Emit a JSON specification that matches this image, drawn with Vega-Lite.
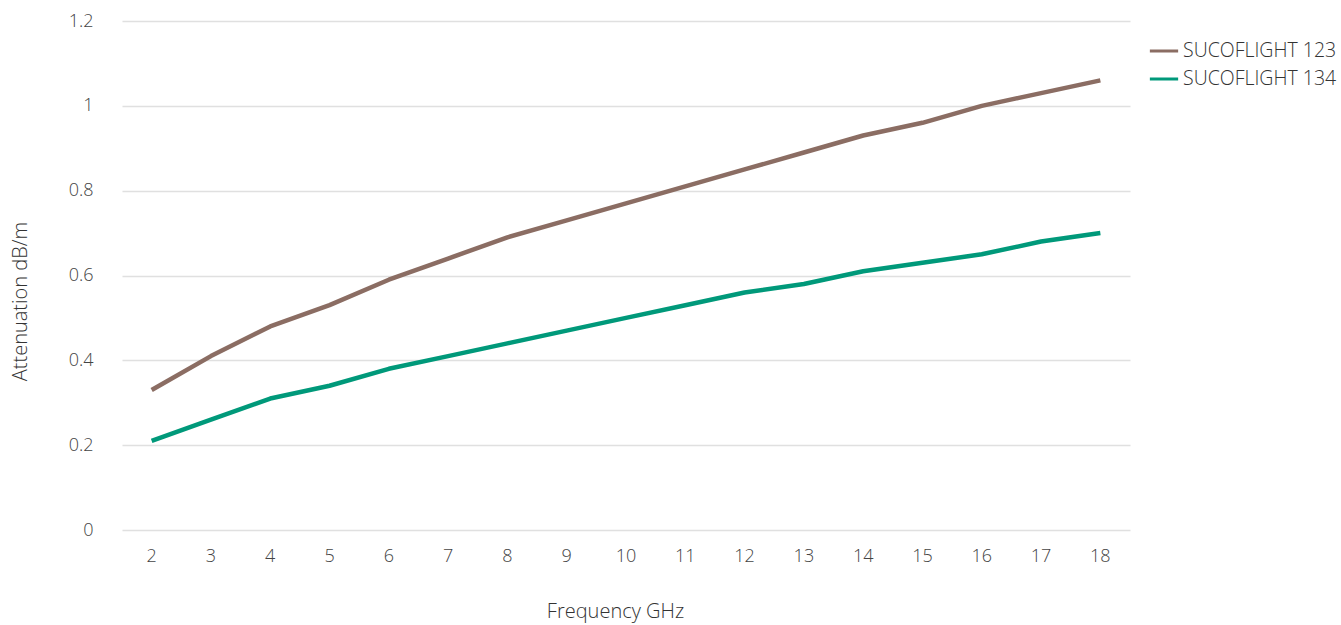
{
  "$schema": "https://vega.github.io/schema/vega-lite/v6.json",
  "width": 1008,
  "height": 509,
  "autosize": "none",
  "padding": {"left": 122, "top": 21, "right": 211, "bottom": 95},
  "background": "white",
  "config": {
    "view": {"stroke": null},
    "font": "Open Sans",
    "axis": {"labelFont": "Open Sans", "titleFont": "Open Sans", "labelFontWeight": 300, "titleFontWeight": 300, "labelColor": "#444", "titleColor": "#333", "labelFontSize": 18, "titleFontSize": 20}
  },
  "data": {
    "values": [
      {"f": 2, "series": "SUCOFLIGHT 123", "v": 0.33},
      {"f": 3, "series": "SUCOFLIGHT 123", "v": 0.41},
      {"f": 4, "series": "SUCOFLIGHT 123", "v": 0.48},
      {"f": 5, "series": "SUCOFLIGHT 123", "v": 0.53},
      {"f": 6, "series": "SUCOFLIGHT 123", "v": 0.59},
      {"f": 7, "series": "SUCOFLIGHT 123", "v": 0.64},
      {"f": 8, "series": "SUCOFLIGHT 123", "v": 0.69},
      {"f": 9, "series": "SUCOFLIGHT 123", "v": 0.73},
      {"f": 10, "series": "SUCOFLIGHT 123", "v": 0.77},
      {"f": 11, "series": "SUCOFLIGHT 123", "v": 0.81},
      {"f": 12, "series": "SUCOFLIGHT 123", "v": 0.85},
      {"f": 13, "series": "SUCOFLIGHT 123", "v": 0.89},
      {"f": 14, "series": "SUCOFLIGHT 123", "v": 0.93},
      {"f": 15, "series": "SUCOFLIGHT 123", "v": 0.96},
      {"f": 16, "series": "SUCOFLIGHT 123", "v": 1.0},
      {"f": 17, "series": "SUCOFLIGHT 123", "v": 1.03},
      {"f": 18, "series": "SUCOFLIGHT 123", "v": 1.06},
      {"f": 2, "series": "SUCOFLIGHT 134", "v": 0.21},
      {"f": 3, "series": "SUCOFLIGHT 134", "v": 0.26},
      {"f": 4, "series": "SUCOFLIGHT 134", "v": 0.31},
      {"f": 5, "series": "SUCOFLIGHT 134", "v": 0.34},
      {"f": 6, "series": "SUCOFLIGHT 134", "v": 0.38},
      {"f": 7, "series": "SUCOFLIGHT 134", "v": 0.41},
      {"f": 8, "series": "SUCOFLIGHT 134", "v": 0.44},
      {"f": 9, "series": "SUCOFLIGHT 134", "v": 0.47},
      {"f": 10, "series": "SUCOFLIGHT 134", "v": 0.50},
      {"f": 11, "series": "SUCOFLIGHT 134", "v": 0.53},
      {"f": 12, "series": "SUCOFLIGHT 134", "v": 0.56},
      {"f": 13, "series": "SUCOFLIGHT 134", "v": 0.58},
      {"f": 14, "series": "SUCOFLIGHT 134", "v": 0.61},
      {"f": 15, "series": "SUCOFLIGHT 134", "v": 0.63},
      {"f": 16, "series": "SUCOFLIGHT 134", "v": 0.65},
      {"f": 17, "series": "SUCOFLIGHT 134", "v": 0.68},
      {"f": 18, "series": "SUCOFLIGHT 134", "v": 0.70}
    ]
  },
  "mark": {"type": "line", "strokeWidth": 4.5, "strokeCap": "butt", "strokeJoin": "round"},
  "encoding": {
    "x": {
      "field": "f", "type": "ordinal", "sort": "ascending",
      "scale": {"type": "band", "paddingInner": 0, "paddingOuter": 0},
      "axis": {"title": "Frequency GHz", "titleX": 493, "labelAngle": 0, "domain": false, "ticks": false, "grid": false, "labelPadding": 17, "titlePadding": 36}
    },
    "y": {
      "field": "v", "type": "quantitative",
      "scale": {"domain": [0, 1.2], "nice": false},
      "axis": {"title": "Attenuation dB/m", "titleY": 280, "values": [0, 0.2, 0.4, 0.6, 0.8, 1, 1.2], "format": ".1~f", "domain": false, "ticks": false, "grid": true, "gridColor": "#e0e0e0", "gridWidth": 1.5, "labelPadding": 29, "titlePadding": 38}
    },
    "color": {
      "field": "series", "type": "nominal",
      "scale": {"domain": ["SUCOFLIGHT 123", "SUCOFLIGHT 134"], "range": ["#8b6d63", "#00997a"]},
      "legend": {"title": null, "orient": "none", "legendX": 1026, "legendY": 14, "symbolType": "stroke", "symbolStrokeWidth": 3, "symbolSize": 800, "labelFontSize": 19.5, "labelFont": "Open Sans", "labelFontWeight": 300, "labelColor": "#333", "rowPadding": 2, "labelOffset": 3}
    }
  }
}
